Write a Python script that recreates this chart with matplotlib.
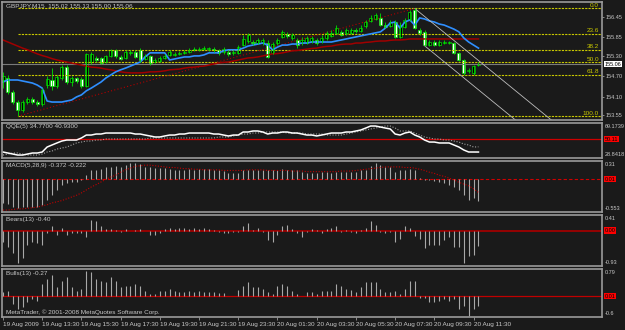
import numpy as np
import matplotlib
matplotlib.use('Agg')
import matplotlib.pyplot as plt

# GBPJPY M15 candles, 19 Aug 2009 11:30 -> 20 Aug 2009 11:45
opens = [154.59,154.65,154.24,153.94,153.71,153.94,154.03,153.94,153.88,154.44,
         154.59,154.41,154.65,154.97,154.53,154.65,154.62,154.41,155.12,155.24,
         155.24,155.12,155.30,155.48,155.27,155.24,155.39,155.42,155.48,155.21,
         155.30,155.12,155.15,155.24,155.33,155.33,155.36,155.39,155.42,155.48,
         155.48,155.50,155.50,155.50,155.48,155.42,155.42,155.39,155.39,155.62,
         155.74,155.71,155.68,155.68,155.68,155.39,155.68,155.86,155.95,155.83,
         155.77,155.68,155.68,155.74,155.77,155.74,155.83,155.89,155.98,156.01,
         155.98,155.98,156.07,156.04,156.18,156.33,156.39,156.42,156.21,156.18,
         156.30,155.86,156.15,156.36,156.66,156.07,156.01,155.62,155.71,155.62,
         155.68,155.68,155.68,155.39,155.18,154.86,154.80,155.02]
highs = [154.83,154.74,154.30,154.00,154.00,154.09,154.09,154.00,154.35,154.71,
         154.94,154.74,155.03,155.03,154.71,154.68,154.68,155.39,155.42,155.30,
         155.27,155.33,155.50,155.50,155.33,155.48,155.48,155.48,155.53,155.36,
         155.33,155.24,155.30,155.36,155.48,155.42,155.45,155.48,155.53,155.56,
         155.56,155.59,155.56,155.56,155.50,155.56,155.48,155.48,155.62,155.92,
         155.98,155.77,155.83,155.83,155.77,155.71,155.83,156.07,156.01,155.98,
         155.83,155.86,155.89,155.89,155.83,155.92,156.04,156.07,156.21,156.07,
         156.12,156.12,156.12,156.21,156.36,156.51,156.57,156.57,156.30,156.36,
         156.36,156.30,156.42,156.66,156.70,156.12,156.07,155.77,155.77,155.77,
         155.77,155.74,155.71,155.42,155.21,154.94,155.03,155.13]
lows = [154.35,154.18,153.88,153.52,153.65,153.88,153.88,153.82,153.82,154.35,
        154.30,154.35,154.59,154.47,154.41,154.50,154.35,154.38,155.06,155.12,
        155.06,155.09,155.27,155.24,155.18,155.21,155.33,155.24,155.12,155.18,
        155.03,155.09,155.12,155.21,155.30,155.30,155.33,155.36,155.39,155.45,
        155.45,155.48,155.45,155.42,155.33,155.36,155.30,155.33,155.36,155.59,
        155.68,155.62,155.65,155.62,155.24,155.36,155.62,155.83,155.83,155.77,
        155.53,155.62,155.65,155.68,155.62,155.68,155.77,155.86,155.95,155.89,
        155.92,155.95,155.98,156.01,156.12,156.30,156.36,156.18,156.12,156.15,
        155.83,155.83,156.12,156.33,156.09,155.92,155.59,155.59,155.59,155.59,
        155.65,155.65,155.36,155.15,154.74,154.80,154.74,155.00]
closes = [154.71,154.24,153.94,153.71,153.94,154.03,153.94,153.88,154.30,154.62,
          154.41,154.68,154.97,154.53,154.65,154.56,154.41,155.36,155.36,155.18,
          155.09,155.30,155.48,155.30,155.21,155.42,155.42,155.27,155.18,155.30,
          155.09,155.18,155.24,155.30,155.42,155.36,155.39,155.42,155.48,155.50,
          155.50,155.53,155.53,155.48,155.39,155.50,155.36,155.42,155.56,155.80,
          155.92,155.68,155.77,155.77,155.27,155.65,155.77,156.01,155.89,155.92,
          155.62,155.77,155.83,155.83,155.68,155.83,155.98,155.98,156.12,155.92,
          156.07,156.07,156.04,156.12,156.30,156.42,156.51,156.21,156.15,156.30,
          155.86,156.21,156.36,156.60,156.12,155.98,155.62,155.71,155.62,155.71,
          155.71,155.71,155.39,155.18,154.80,154.89,155.00,155.06]

# moving averages on the price chart
ma_blue = [154.53,154.59,154.59,154.59,154.56,154.53,154.50,154.44,154.35,153.97,
           153.94,153.94,153.94,153.97,154.00,154.09,154.15,154.27,154.35,154.44,
           154.53,154.65,154.74,154.83,154.89,154.94,155.00,155.06,155.12,155.27,
           155.39,155.39,155.39,155.39,155.18,155.21,155.24,155.27,155.27,155.30,
           155.30,155.33,155.39,155.39,155.39,155.45,155.48,155.48,155.48,155.53,
           155.59,155.62,155.65,155.68,155.62,155.48,155.56,155.62,155.62,155.65,
           155.65,155.68,155.68,155.71,155.71,155.71,155.71,155.71,155.74,155.77,
           155.80,155.83,155.86,155.89,155.92,155.95,155.98,156.01,156.12,156.27,
           156.30,156.12,156.30,156.36,156.21,156.42,156.39,156.33,156.30,156.24,
           156.21,156.15,156.09,156.01,155.83,155.71,155.62,155.53]
ma_red = [155.77,155.71,155.65,155.59,155.53,155.48,155.42,155.36,155.31,155.27,
          155.22,155.18,155.15,155.12,155.09,155.06,155.03,155.00,154.97,154.96,
          154.94,154.91,154.89,154.86,154.83,154.81,154.80,154.80,154.80,154.81,
          154.83,154.83,154.84,154.86,154.89,154.90,154.91,154.94,154.96,154.97,
          154.99,155.00,155.03,155.06,155.09,155.11,155.12,155.15,155.18,155.21,
          155.24,155.25,155.27,155.30,155.33,155.36,155.37,155.39,155.42,155.45,
          155.46,155.48,155.50,155.52,155.53,155.56,155.58,155.59,155.62,155.64,
          155.65,155.65,155.68,155.68,155.70,155.71,155.73,155.74,155.74,155.76,
          155.77,155.77,155.78,155.80,155.80,155.80,155.80,155.80,155.80,155.80,
          155.80,155.80,155.80,155.80,155.80,155.80,155.80,155.80]

# fibonacci retracement anchors (bar, price) and levels
fib_low_bar, fib_low = 3, 153.52
fib_high_bar, fib_high = 84, 156.70
fib_levels = [0.0, 23.6, 38.2, 50.0, 61.8, 100.0]

# down channel drawn from the top
chan_a_bars, chan_a_prices = [84, 115], [156.70, 153.04]
chan_b_bars, chan_b_prices = [86, 107], [155.60, 153.12]

qqe_main = [34.8,33.6,32.4,31.2,31.2,32.4,33.6,33.6,34.8,40.7,
            43.1,45.5,47.8,49.0,49.0,49.0,51.4,54.9,54.9,56.1,
            56.1,57.3,57.3,57.3,57.3,57.3,57.3,56.1,56.1,54.9,
            53.8,52.6,52.6,53.8,54.9,54.9,56.1,56.1,57.3,57.3,
            57.3,57.3,57.3,56.1,56.1,54.9,53.8,54.9,54.9,58.5,
            58.5,59.7,59.7,58.5,56.1,57.3,57.3,58.5,58.5,57.3,
            57.3,56.1,54.9,54.9,53.8,54.9,56.1,57.3,57.3,57.3,
            58.5,58.5,59.7,60.9,63.2,65.6,65.6,64.4,63.2,62.1,
            56.1,54.9,57.3,58.5,54.9,52.6,49.0,46.6,46.6,45.5,
            45.5,45.5,43.1,40.7,37.2,34.8,34.8,34.77]
qqe_trail = [31.2,32.4,33.6,33.6,32.4,31.2,31.2,31.2,32.4,34.8,
             36.0,38.3,39.5,40.7,43.1,45.5,46.6,47.8,47.8,49.0,
             49.0,50.2,50.2,50.2,50.2,50.2,50.2,50.2,50.2,50.2,
             51.4,51.4,51.4,51.4,51.4,51.4,51.4,51.4,51.4,51.4,
             51.4,51.4,51.4,51.4,52.6,52.6,52.6,53.8,54.9,56.1,
             56.1,57.3,57.3,58.5,58.5,58.5,58.5,58.5,57.3,57.3,
             57.3,57.3,56.1,56.1,56.1,56.1,54.9,54.9,54.9,54.9,
             56.1,57.3,58.5,59.7,60.9,62.1,63.2,64.4,65.6,65.6,
             63.2,59.7,59.7,59.7,57.3,54.9,52.6,51.4,50.2,50.2,
             49.0,49.0,47.8,46.6,44.3,43.1,40.7,40.93]

macd_hist = [-0.40,-0.42,-0.47,-0.48,-0.47,-0.47,-0.47,-0.47,-0.43,-0.35,
             -0.27,-0.18,-0.10,-0.06,-0.045,-0.045,-0.01,0.07,0.16,0.16,
             0.17,0.21,0.21,0.22,0.21,0.24,0.28,0.28,0.26,0.21,
             0.21,0.19,0.20,0.19,0.17,0.16,0.16,0.16,0.17,0.16,
             0.17,0.17,0.17,0.16,0.16,0.14,0.11,0.11,0.11,0.16,
             0.16,0.16,0.16,0.16,0.15,0.16,0.16,0.17,0.16,0.16,
             0.16,0.12,0.11,0.11,0.11,0.12,0.12,0.11,0.12,0.12,
             0.12,0.12,0.12,0.16,0.16,0.22,0.28,0.24,0.21,0.21,
             0.12,0.15,0.16,0.17,0.16,0.02,-0.01,-0.01,-0.02,-0.045,
             -0.06,-0.10,-0.13,-0.18,-0.27,-0.35,-0.31,-0.372]
macd_signal = [-0.52,-0.52,-0.51,-0.50,-0.50,-0.49,-0.48,-0.47,-0.45,-0.43,
               -0.40,-0.38,-0.36,-0.33,-0.30,-0.27,-0.23,-0.18,-0.13,-0.09,
               -0.045,0.0,0.04,0.07,0.12,0.16,0.19,0.22,0.23,0.24,
               0.24,0.23,0.22,0.21,0.20,0.20,0.19,0.18,0.18,0.17,
               0.17,0.16,0.16,0.16,0.16,0.15,0.15,0.15,0.15,0.15,
               0.16,0.16,0.16,0.16,0.15,0.15,0.15,0.15,0.15,0.14,
               0.14,0.14,0.13,0.13,0.13,0.13,0.13,0.13,0.13,0.14,
               0.14,0.14,0.15,0.16,0.17,0.18,0.19,0.20,0.21,0.21,
               0.21,0.21,0.20,0.20,0.19,0.17,0.15,0.12,0.10,0.07,
               0.05,0.02,-0.01,-0.05,-0.08,-0.11,-0.16,-0.222]

bears = [-0.30,-0.42,-0.58,-0.84,-0.71,-0.37,-0.29,-0.32,-0.37,-0.05,
         0.11,-0.11,0.08,-0.11,-0.06,-0.05,-0.06,-0.16,0.29,0.24,
         0.13,0.05,0.03,0.02,-0.03,0.03,-0.02,0.02,0.03,-0.02,
         -0.11,-0.11,-0.06,0.05,0.06,0.04,0.06,0.08,0.05,0.06,
         0.05,0.08,0.04,0.02,-0.03,-0.05,-0.06,-0.03,-0.03,0.11,
         0.21,0.02,0.08,-0.03,-0.24,-0.29,-0.11,0.13,0.16,0.03,
         -0.05,-0.18,-0.03,0.03,0.02,-0.05,0.04,0.08,0.11,-0.03,
         0.02,-0.03,-0.05,0.02,0.08,0.24,0.16,-0.03,-0.06,-0.03,
         -0.29,-0.21,0.11,0.08,-0.13,-0.21,-0.45,-0.37,-0.37,-0.37,
         -0.24,-0.18,-0.42,-0.42,-0.84,-0.68,-0.63,-0.40]
bulls = [0.11,0.16,-0.22,-0.37,-0.32,-0.17,-0.08,-0.13,0.35,0.49,
         0.61,0.26,0.44,0.55,0.26,0.16,0.20,0.74,0.70,0.49,
         0.44,0.41,0.55,0.44,0.26,0.30,0.30,0.35,0.30,0.16,
         0.07,0.07,0.16,0.16,0.20,0.16,0.11,0.13,0.16,0.11,
         0.16,0.13,0.11,0.13,0.09,0.09,0.01,0.02,0.19,0.30,
         0.41,0.26,0.26,0.20,0.11,0.07,0.30,0.35,0.30,0.16,
         0.07,0.02,0.11,0.13,0.07,0.16,0.16,0.16,0.35,0.30,
         0.20,0.19,0.11,0.28,0.41,0.41,0.41,0.20,0.11,0.13,
         0.16,0.07,0.20,0.44,0.44,-0.06,-0.06,-0.17,-0.17,-0.13,
         -0.08,-0.15,-0.08,-0.37,-0.29,-0.56,-0.37,-0.27]

price_ticks = [156.45, 155.85, 155.30, 154.70, 154.10, 153.55]
time_labels = ['19 Aug 2009', '19 Aug 13:30', '19 Aug 15:30', '19 Aug 17:30',
               '19 Aug 19:30', '19 Aug 21:30', '19 Aug 23:30', '20 Aug 01:30',
               '20 Aug 03:30', '20 Aug 05:30', '20 Aug 07:30', '20 Aug 09:30',
               '20 Aug 11:30']

plt.rcParams['font.family'] = ['Liberation Sans', 'DejaVu Sans']
bg = '#1a1a1a'
txt = '#c8c8c8'
fs = 4.6     # labels inside panels / time axis
fr = 4.0     # right price scale
W, H = 625, 330
x = np.arange(len(closes))
xlim = (-0.2, 122.2)

fig = plt.figure(figsize=(W / 100, H / 100), dpi=100, facecolor=bg)

def panel(top, bottom):
    ax = fig.add_axes([2 / W, 1 - bottom / H, 600 / W, (bottom - top) / H])
    ax.set_facecolor(bg)
    ax.set_xlim(*xlim)
    for s in ax.spines.values():
        s.set_color('#9a9a9a')
        s.set_linewidth(1.2)
    ax.yaxis.tick_right()
    ax.tick_params(axis='y', colors='#9a9a9a', labelcolor=txt, labelsize=fr, length=1.5, pad=0.8, width=0.6)
    ax.tick_params(axis='x', bottom=False, labelbottom=False)
    return ax

def red_box(ax, y, s):
    ax.text(1.004, y, s, transform=ax.get_yaxis_transform(), ha='left', va='center',
            fontsize=fr, color='black', bbox=dict(boxstyle='square,pad=0.12', fc='#ff0000', ec='none'))

def edge_labels(ax, top, bottom):
    ax.set_yticks([])
    ax.text(1.004, 0.98, top, transform=ax.transAxes, ha='left', va='top', fontsize=fr, color=txt)
    ax.text(1.004, 0.02, bottom, transform=ax.transAxes, ha='left', va='bottom', fontsize=fr, color=txt)

# ---- price chart
ax = panel(2, 120)
ax.set_ylim(153.41, 156.89)
rng = fib_high - fib_low
for lv in fib_levels:
    p = fib_high - rng * lv / 100
    ax.hlines(p, fib_low_bar, xlim[1], color='#c8c800', lw=0.8, linestyles=(0, (2, 1)))
    ax.text(121.6, p + 0.02, '%.1f' % lv, color='#c8c800', fontsize=fs, ha='right', va='bottom')
ax.plot([fib_low_bar, fib_high_bar], [fib_low, fib_high], color='#b00000', lw=0.8, ls=(0, (1, 2)))
ax.axhline(closes[-1], color='#7a7a7a', lw=0.8)
ax.plot(x, ma_red, color='#a00000', lw=1.1)
ax.plot(x, ma_blue, color='#2f8fff', lw=1.2)
ax.plot(chan_a_bars, chan_a_prices, color='#bdbdbd', lw=0.6)
ax.plot(chan_b_bars, chan_b_prices, color='#bdbdbd', lw=0.6)

o = np.array(opens); c = np.array(closes)
ax.vlines(x, lows, highs, color='#00e000', lw=0.6)
bear = c < o
body_lo = np.minimum(o, c)
body_h = np.maximum(np.abs(c - o), 0.008)
ax.bar(x, body_h, bottom=body_lo, width=0.62, color=np.where(bear, 'white', '#000000'),
       edgecolor='#00e000', lw=0.5)
ax.set_yticks(price_ticks, ['%.2f' % p for p in price_ticks])
ax.text(1.004, closes[-1], '%.2f' % closes[-1], transform=ax.get_yaxis_transform(), ha='left',
        va='center', fontsize=fr, color='black', bbox=dict(boxstyle='square,pad=0.12', fc='white', ec='none'))
ax.text(0.006, 0.985, 'GBPJPY,M15  %.2f %.2f %.2f %.2f' % (opens[-1], highs[-1], lows[-1], closes[-1]),
        transform=ax.transAxes, ha='left', va='top', fontsize=fs, color=txt)

# ---- QQE
ax = panel(123, 158)
ax.set_ylim(27.7, 69.17)
ax.axhline(50, color='#d00000', lw=0.9)
ax.plot(x, qqe_trail, color='#a0a0a0', lw=0.8, ls=(0, (1, 1.5)))
ax.plot(x, qqe_main, color='white', lw=1.1)
edge_labels(ax, '69.1739', '28.8418')
red_box(ax, 50, '50.11')
ax.text(0.006, 0.96, 'QQE(5) %.4f %.4f' % (qqe_main[-1], qqe_trail[-1]), transform=ax.transAxes,
        ha='left', va='top', fontsize=fs, color=txt)

# ---- MACD
ax = panel(161, 212)
ax.set_ylim(-0.553, 0.31)
ax.axhline(0.0, color='#d00000', lw=0.8, ls=(0, (3, 2)))
ax.vlines(x, 0, macd_hist, color='#a8a8a8', lw=0.8)
ax.plot(x, macd_signal, color='#c00000', lw=0.8, ls=(0, (1, 1.5)))
edge_labels(ax, '0.31', '-0.553')
red_box(ax, 0.0, '0.01')
ax.text(0.006, 0.96, 'MACD(5,28,9) %.3f %.3f' % (macd_hist[-1], macd_signal[-1]), transform=ax.transAxes,
        ha='left', va='top', fontsize=fs, color=txt)

# ---- Bears
ax = panel(215, 266)
ax.set_ylim(-0.93, 0.41)
ax.axhline(0.0, color='#a00000', lw=1.3)
ax.vlines(x, 0, bears, color='#a8a8a8', lw=0.8)
edge_labels(ax, '0.41', '-0.93')
red_box(ax, 0.0, '0.00')
ax.text(0.006, 0.97, 'Bears(13) %.2f' % bears[-1], transform=ax.transAxes,
        ha='left', va='top', fontsize=fs, color=txt)

# ---- Bulls
ax = panel(269, 317)
ax.set_ylim(-0.6, 0.79)
ax.axhline(0.0, color='#c00000', lw=0.9)
ax.vlines(x, 0, bulls, color='#a8a8a8', lw=0.8)
edge_labels(ax, '0.79', '-0.6')
red_box(ax, 0.0, '0.01')
ax.text(0.006, 0.96, 'Bulls(13) %.2f' % bulls[-1], transform=ax.transAxes,
        ha='left', va='top', fontsize=fs, color=txt)
ax.text(0.006, 0.04, 'MetaTrader, \u00a9 2001-2008 MetaQuotes Software Corp.', transform=ax.transAxes,
        ha='left', va='bottom', fontsize=fs, color=txt)
ax.set_xticks(np.arange(len(time_labels)) * 8, time_labels)
ax.tick_params(axis='x', bottom=True, labelbottom=True, colors='#9a9a9a', labelcolor=txt,
               labelsize=fs, length=2.5, width=0.6, pad=0.8)
for lbl in ax.get_xticklabels():
    lbl.set_ha('left')

fig.savefig('out.png', dpi=100, facecolor=bg)
